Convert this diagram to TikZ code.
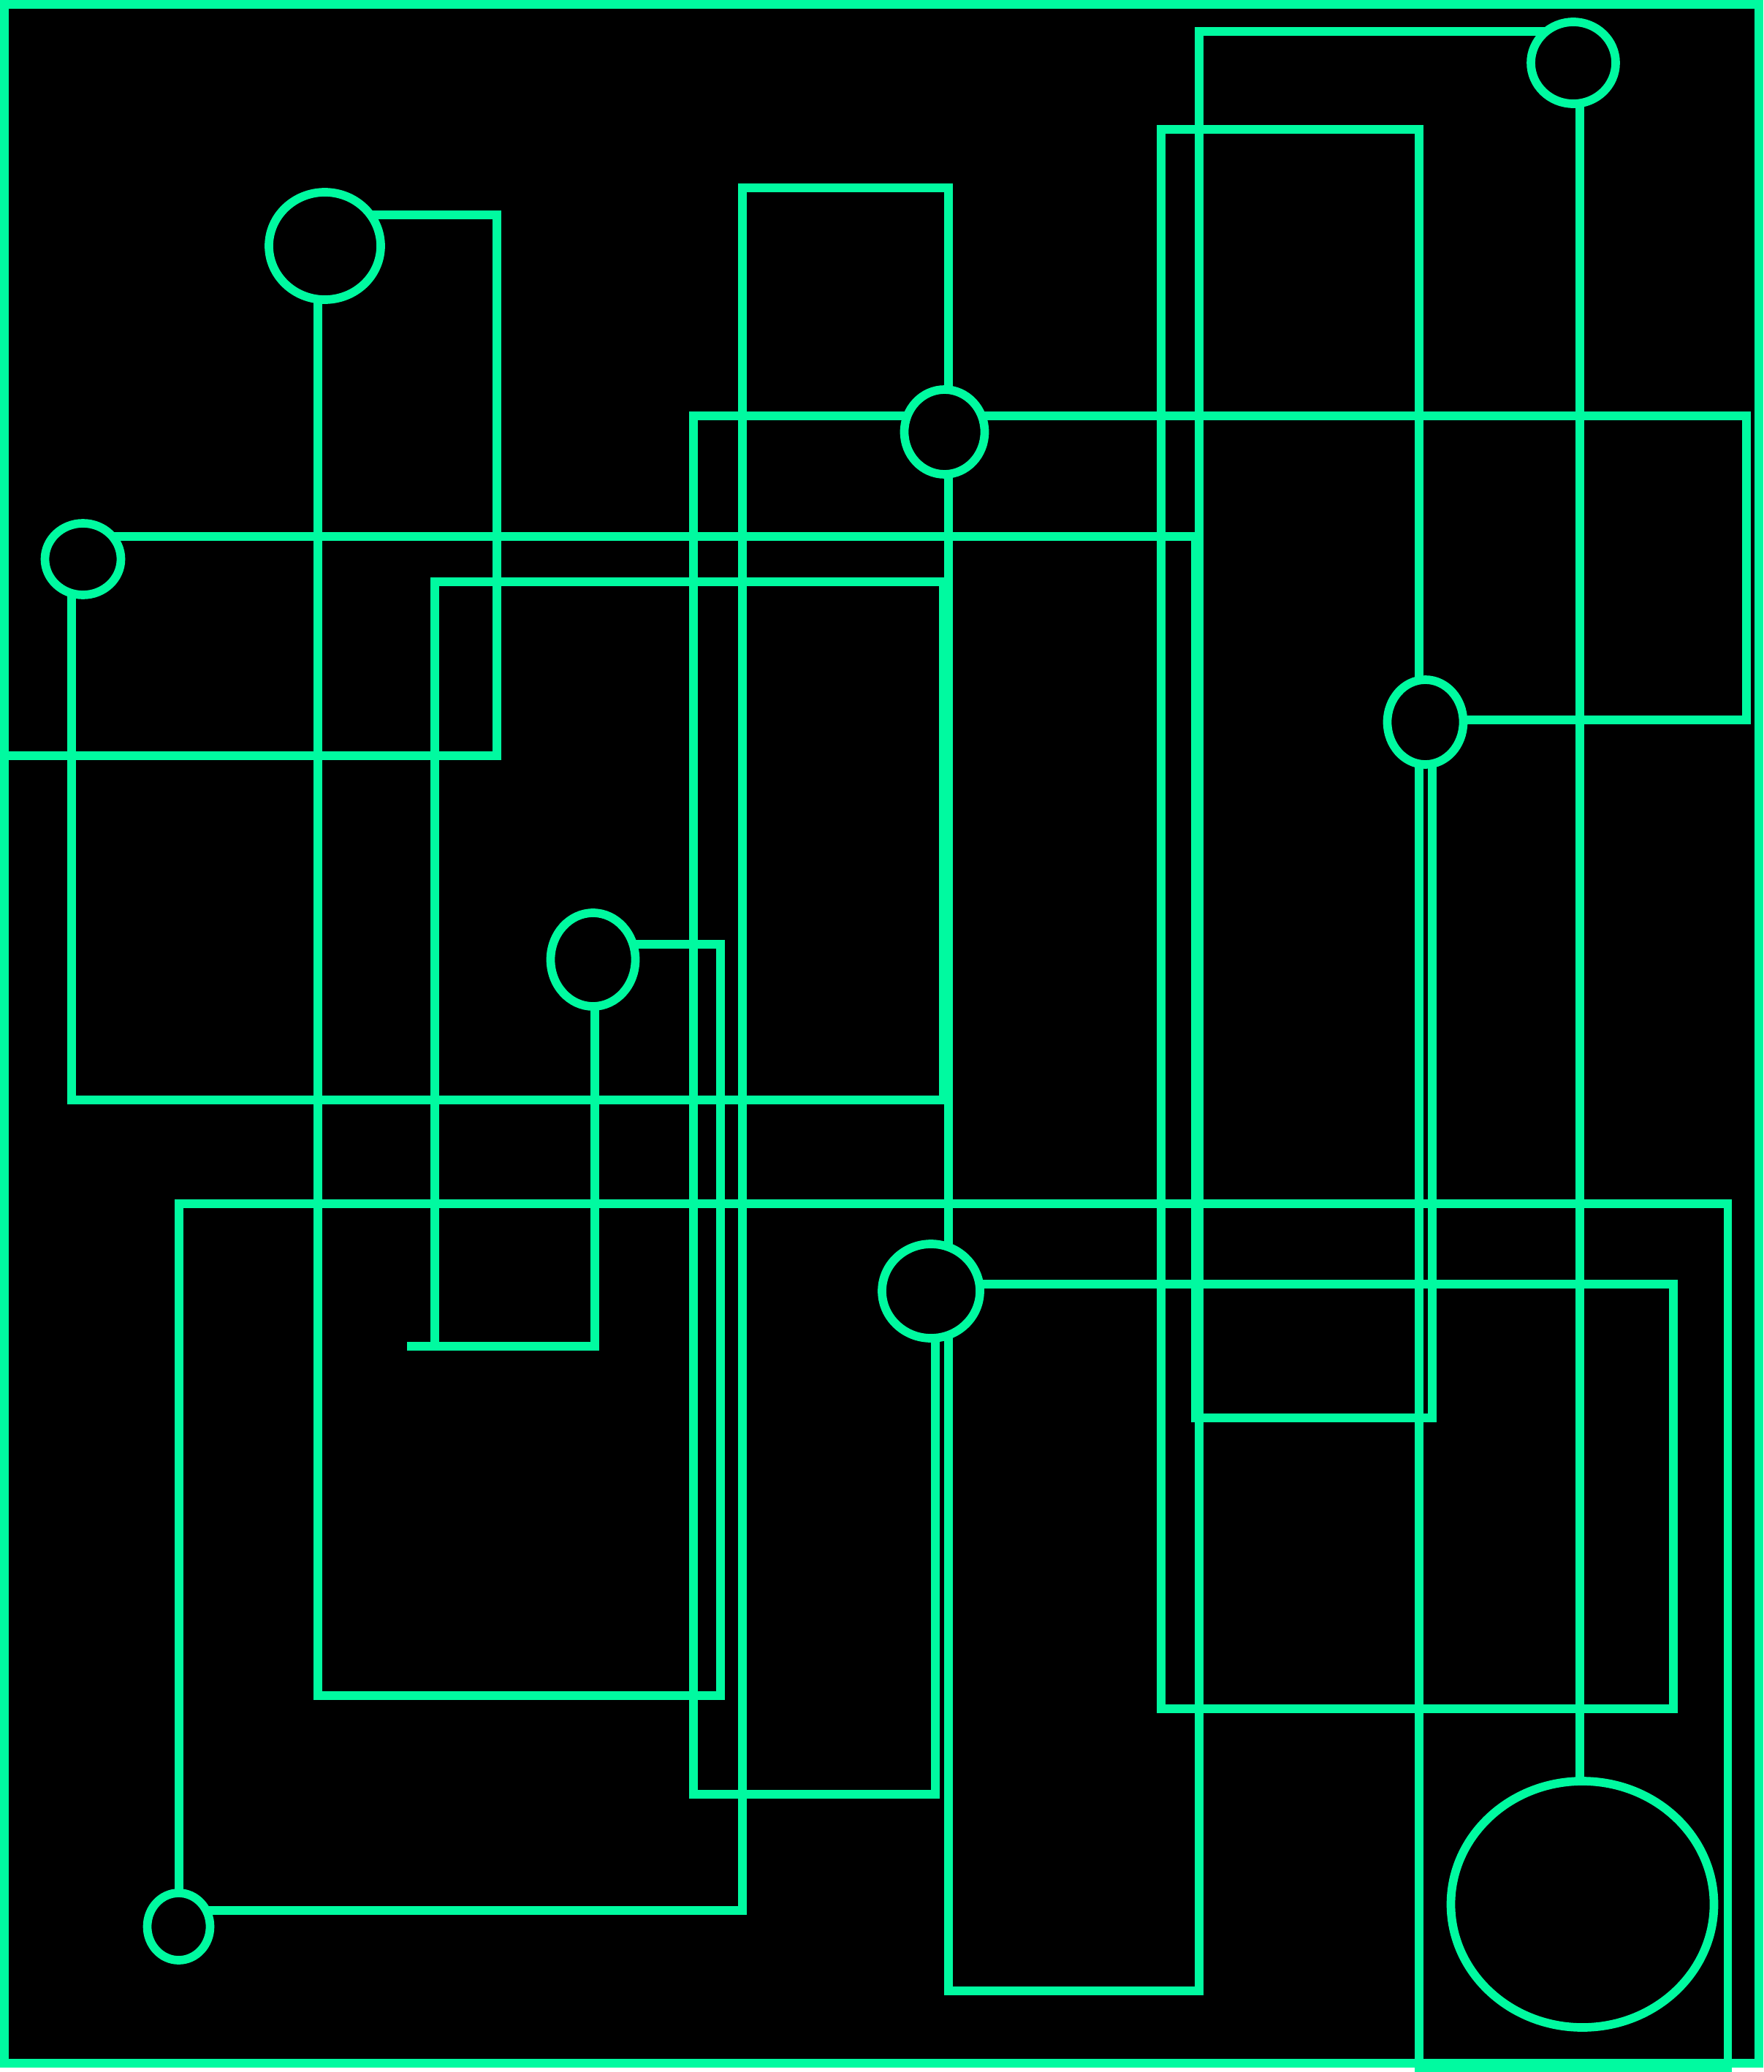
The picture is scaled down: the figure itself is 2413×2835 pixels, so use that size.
\documentclass[tikz,border=0pt]{standalone}
\usetikzlibrary{shapes.geometric,backgrounds}
\definecolor{neon}{RGB}{0,250,160}
\begin{document}
\begin{tikzpicture}[x=0.1mm,y=-0.1mm,
  conn/.style={draw=neon,line width=1.15mm,line join=miter},
  hub/.style={ellipse,draw=neon,fill=black,line width=1.17mm,inner sep=0pt},
  frame/.style={draw=neon,line width=1.2mm}]
\useasboundingbox (0,0) rectangle (2413,2835);
% hubs
\node[hub,minimum width=11.6mm,minimum height=11.2mm] (E1) at (2153,86) {};
\node[hub,minimum width=15.3mm,minimum height=14.7mm] (E2) at (444.5,336.5) {};
\node[hub,minimum width=11.0mm,minimum height=11.6mm] (E3) at (1292.5,591) {};
\node[hub,minimum width=10.4mm,minimum height=9.8mm] (E4) at (113.5,765) {};
\node[hub,minimum width=10.4mm,minimum height=11.6mm] (E5) at (1950.5,988) {};
\node[hub,minimum width=11.6mm,minimum height=12.8mm] (E6) at (811.5,1313) {};
\node[hub,minimum width=13.4mm,minimum height=12.9mm] (E7) at (1274,1766.5) {};
\node[hub,minimum width=36.0mm,minimum height=33.7mm] (E8) at (2165.5,2605.5) {};
\node[hub,minimum width=8.6mm,minimum height=9.2mm] (E9) at (244.5,2636) {};
\coordinate (edgeL) at (0,1034);
\coordinate (stub) at (557,1842);
\begin{scope}[on background layer]
\fill[white] (0,0) rectangle (2413,2835);
\fill[black] (0,0) rectangle (2413,2829);
\draw[conn] (E1.center |- 0,43) -- (1641,43) -- (1641,2724) -- (1298,2724) -- (1298,0 |- E7.center);
\draw[conn] (2162,0 |- E1.center) -- (2162,0 |- E8.center);
\draw[conn] (E2.center |- 0,294) -- (680,294) -- (680,1034) -- (edgeL);
\draw[conn] (435,0 |- E2.center) -- (435,2320) -- (986,2320) -- (986,1292) -- (E6.center |- 0,1292);
\draw[conn] (E3.center |- 0,569) -- (2390,569) -- (2390,985) -- (E5.center |- 0,985);
\draw[conn] (E3.center |- 0,569) -- (949,569) -- (949,2455) -- (1280,2455) -- (1280,0 |- E7.center);
\draw[conn] (1298,0 |- E3.center) -- (1298,257) -- (1016,257) -- (1016,2614) -- (E9.center |- 0,2614);
\draw[conn] (1298,0 |- E3.center) -- (1298,0 |- E7.center);
\draw[conn] (98,0 |- E4.center) -- (98,1505) -- (1291,1505) -- (1291,796) -- (595,796) -- (595,1842) -- (814,1842) -- (814,0 |- E6.center);
\draw[conn] (stub) -- (595,1842);
\draw[conn] (E4.center |- 0,734) -- (1636,734) -- (1636,1940) -- (1960,1940) -- (1960,0 |- E5.center);
\draw[conn] (1942,0 |- E5.center) -- (1942,177) -- (1589,177) -- (1589,2338) -- (2290,2338) -- (2290,1757) -- (E7.center |- 0,1757);
\draw[conn] (1942,0 |- E5.center) -- (1942,2830) -- (2364.5,2830) -- (2364.5,1647) -- (245,1647) -- (245,0 |- E9.center);
\end{scope}
\draw[frame] (6,6) rectangle (2407,2823);
\end{tikzpicture}
\end{document}
